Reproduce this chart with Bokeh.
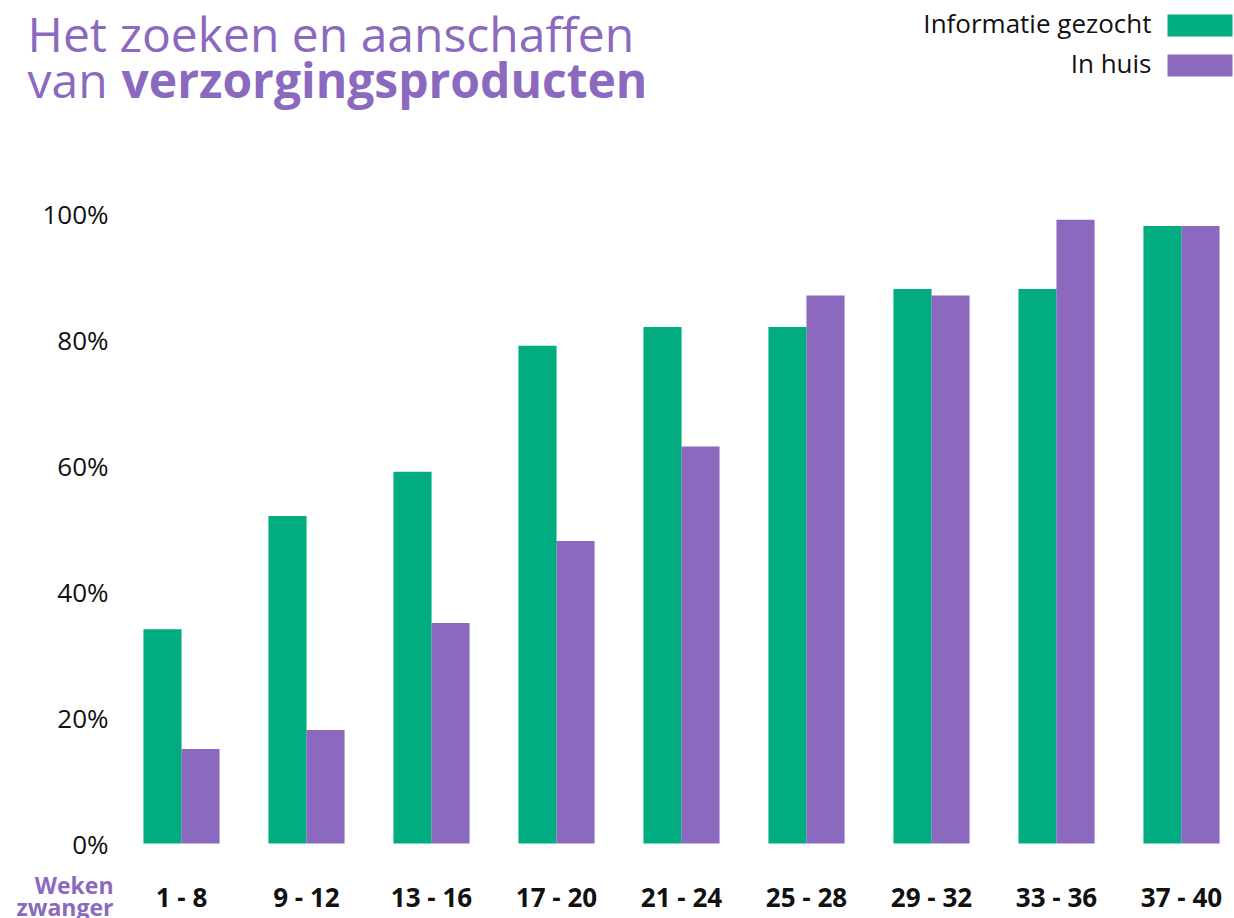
from bokeh.plotting import figure
from bokeh.models import (ColumnDataSource, FixedTicker, PrintfTickFormatter, Label,
                          BoxAnnotation, Range1d)
from bokeh.transform import dodge
from bokeh.embed import file_html
from bokeh.resources import INLINE

categories = ["1 - 8", "9 - 12", "13 - 16", "17 - 20", "21 - 24", "25 - 28", "29 - 32", "33 - 36", "37 - 40"]
informatie_gezocht = [34, 52, 59, 79, 82, 82, 88, 88, 98]
in_huis = [15, 18, 35, 48, 63, 87, 87, 99, 98]
y_ticks = [0, 20, 40, 60, 80, 100]
series_names = ["Informatie gezocht", "In huis"]
title_line1 = "Het zoeken en aanschaffen"
title_line2a = "van"
title_line2b = "verzorgingsproducten"
axis_title = ["Weken", "zwanger"]

GREEN = "#00ac80"
PURPLE = "#8b69bf"
TEXT = "#111111"
FONT = "Open Sans"

W, H = 1234, 918
# pixel geometry: category 0 centred at x=181, 125 px per category; 0% at y=843, 6.3 px per %
X0, XS = 181, 125
Y0, YS = 843, 6.3

idx = list(range(len(categories)))
source = ColumnDataSource(data=dict(x=idx, cat=categories, info=informatie_gezocht, huis=in_huis))

# The frame covers the whole canvas; the axes are pinned inside it with fixed_location
p = figure(width=W, height=H, output_backend="svg", toolbar_location=None,
           x_range=Range1d(-X0 / XS, (W - X0) / XS),
           y_range=Range1d((Y0 - H) / YS, Y0 / YS),
           min_border_left=0, min_border_right=0, min_border_top=0, min_border_bottom=0)
p.background_fill_color = "white"
p.border_fill_color = "white"
p.outline_line_color = None
p.xgrid.visible = False
p.ygrid.visible = False

p.vbar(x=dodge("x", -0.152, range=p.x_range), top="info", bottom=0, width=0.305,
       source=source, fill_color=GREEN, line_color=None)
p.vbar(x=dodge("x", 0.152, range=p.x_range), top="huis", bottom=0, width=0.305,
       source=source, fill_color=PURPLE, line_color=None)

for ax in (p.xaxis[0], p.yaxis[0]):
    ax.axis_line_color = None
    ax.major_tick_line_color = None
    ax.minor_tick_line_color = None
    ax.major_tick_out = 0
    ax.major_tick_in = 0
    ax.major_label_text_font = FONT
    ax.major_label_text_font_size = "26px"
    ax.major_label_text_color = TEXT

p.xaxis.fixed_location = 0
p.xaxis.ticker = FixedTicker(ticks=idx)
p.xaxis.major_label_overrides = {i: c for i, c in zip(idx, categories)}
p.xaxis.major_label_text_font_style = "bold"
p.xaxis.major_label_standoff = 35

p.yaxis.fixed_location = (118 - X0) / XS
p.yaxis.ticker = FixedTicker(ticks=y_ticks)
p.yaxis.formatter = PrintfTickFormatter(format="%d%%")
p.yaxis.major_label_standoff = 10


# screen coordinates relative to the frame's bottom-left corner = canvas bottom-left;
# py is the wanted baseline (page px); 0.38*size compensates the renderer's baseline offset
def lab(text, px, py, size, style="normal", color=TEXT, align="left"):
    y = H - (py - 0.38 * size)
    p.add_layout(Label(x=px, y=y, x_units="screen", y_units="screen", text=text,
                       text_font=FONT, text_font_size=f"{size}px", text_font_style=style,
                       text_color=color, text_align=align, text_baseline="alphabetic"))


# Title
lab(title_line1, 27, 51, 48, color=PURPLE)
lab(title_line2a, 27, 97, 48, color=PURPLE)
lab(title_line2b, 121, 97, 48, style="bold", color=PURPLE)

# Legend (text left of swatch)
colors = [GREEN, PURPLE]
for i, (name, col) in enumerate(zip(series_names, colors)):
    base = 32 + 40 * i
    lab(name, 1151, base, 26, align="right")
    p.add_layout(BoxAnnotation(left=1167, right=1232, top=H - (base - 18), bottom=H - (base + 4),
                               left_units="screen", right_units="screen",
                               top_units="screen", bottom_units="screen",
                               fill_color=col, fill_alpha=1.0, line_color=None))

# Axis category title
for i, t in enumerate(axis_title):
    lab(t, 113, 893 + 22 * i, 23, style="bold", color=PURPLE, align="right")

open("out.html", "w").write(file_html(p, INLINE))
